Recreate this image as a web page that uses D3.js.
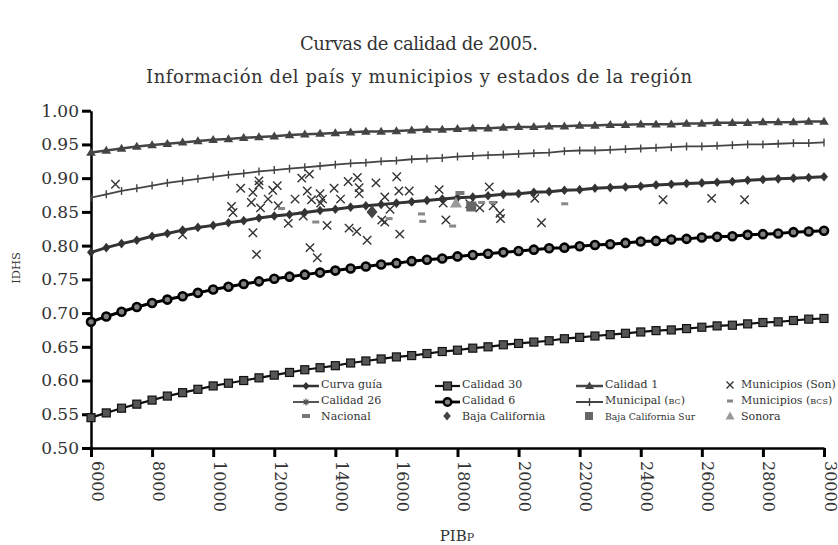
<!DOCTYPE html>
<html><head><meta charset="utf-8">
<script src="https://cdn.jsdelivr.net/npm/d3@7"></script>
<style>
body{margin:0;background:#fff}
svg text{font-family:"DejaVu Serif",serif;fill:#333}
</style>
</head><body>
<svg id="c" width="838" height="545"></svg>
<script>
// ---------- data ----------
const titleLines = ["Curvas de calidad de 2005.", "Información del país y municipios y estados de la región"];
const yLabel = "IDHS";
const xTicks = [6000, 8000, 10000, 12000, 14000, 16000, 18000, 20000, 22000, 24000, 26000, 28000, 30000];
const yTicks = [0.50, 0.55, 0.60, 0.65, 0.70, 0.75, 0.80, 0.85, 0.90, 0.95, 1.00];

const pib = [6000,6500,7000,7500,8000,8500,9000,9500,10000,10500,11000,11500,12000,12500,13000,13500,14000,14500,15000,15500,16000,16500,17000,17500,18000,18500,19000,19500,20000,20500,21000,21500,22000,22500,23000,23500,24000,24500,25000,25500,26000,26500,27000,27500,28000,28500,29000,29500,30000];

const curvaGuia = [0.790,0.797,0.803,0.808,0.814,0.818,0.823,0.827,0.830,0.834,0.837,0.841,0.844,0.846,0.849,0.852,0.854,0.857,0.859,0.861,0.863,0.865,0.867,0.869,0.871,0.872,0.874,0.876,0.877,0.879,0.880,0.882,0.883,0.885,0.886,0.887,0.888,0.890,0.891,0.892,0.893,0.894,0.895,0.897,0.898,0.899,0.900,0.901,0.902];
const calidad30 = [0.545,0.552,0.559,0.565,0.571,0.577,0.582,0.587,0.592,0.596,0.600,0.604,0.608,0.612,0.616,0.619,0.622,0.626,0.629,0.632,0.635,0.637,0.640,0.643,0.645,0.648,0.650,0.653,0.655,0.657,0.659,0.662,0.664,0.666,0.668,0.670,0.672,0.674,0.675,0.677,0.679,0.681,0.682,0.684,0.686,0.687,0.689,0.691,0.692];
const calidad6 = [0.687,0.695,0.702,0.709,0.715,0.720,0.725,0.730,0.735,0.739,0.743,0.747,0.751,0.754,0.757,0.760,0.763,0.766,0.769,0.772,0.774,0.777,0.779,0.781,0.784,0.786,0.788,0.790,0.792,0.794,0.796,0.797,0.799,0.801,0.802,0.804,0.806,0.807,0.809,0.810,0.812,0.813,0.814,0.816,0.817,0.818,0.820,0.821,0.822];
const calidad1 = [0.938,0.941,0.944,0.947,0.949,0.951,0.953,0.955,0.957,0.958,0.960,0.961,0.962,0.964,0.965,0.966,0.967,0.968,0.969,0.969,0.970,0.971,0.972,0.972,0.973,0.974,0.974,0.975,0.976,0.976,0.977,0.977,0.978,0.978,0.979,0.979,0.980,0.980,0.980,0.981,0.981,0.982,0.982,0.982,0.983,0.983,0.983,0.984,0.984];
const municipalBC = [0.871,0.876,0.881,0.885,0.889,0.893,0.896,0.899,0.902,0.905,0.907,0.910,0.912,0.914,0.916,0.918,0.920,0.922,0.923,0.925,0.926,0.928,0.929,0.930,0.932,0.933,0.934,0.935,0.936,0.937,0.938,0.940,0.941,0.941,0.942,0.943,0.944,0.945,0.946,0.947,0.947,0.948,0.949,0.950,0.950,0.951,0.952,0.952,0.953];

const sonX = [6800,10900,11500,11500,11300,11250,10600,10650,11550,11800,11950,12100,12130,11300,11420,12460,12680,12900,13150,13080,13220,13500,13580,13520,12950,13170,13410,13730,13960,14170,14420,14720,14780,14780,14450,14700,15040,15330,15620,15520,15620,15790,16010,16080,16420,16110,17400,17620,19040,18400,18730,19170,19390,19410,20530,20750,9000,17530,24730,26320,27400];
const sonY = [0.891,0.885,0.896,0.890,0.879,0.864,0.858,0.849,0.856,0.869,0.882,0.889,0.859,0.819,0.787,0.833,0.869,0.900,0.906,0.881,0.868,0.877,0.869,0.863,0.844,0.797,0.782,0.830,0.885,0.869,0.895,0.901,0.886,0.877,0.826,0.821,0.808,0.893,0.872,0.838,0.835,0.854,0.902,0.881,0.881,0.817,0.883,0.838,0.887,0.862,0.856,0.859,0.848,0.840,0.870,0.834,0.816,0.863,0.868,0.870,0.868];

const bcsMunX = [12240,13360,16820,16860,15760,17840,18790,19150,21510];
const bcsMunY = [0.855,0.835,0.847,0.836,0.840,0.829,0.864,0.864,0.862];

const nacionalX = [18080], nacionalY = [0.878];
const bajaCalX = [15200], bajaCalY = [0.850];
const bajaCalSurX = [18450], bajaCalSurY = [0.858];
const sonoraX = [17950], sonoraY = [0.863];

const legendRow1 = ["Curva guía", "Calidad 30", "Calidad 1", "Municipios (Son)"];
const legendRow2 = ["Calidad 26", "Calidad 6", "Municipal (BC)", "Municipios (BCS)"];
const legendRow3 = ["Nacional", "Baja California", "Baja California Sur", "Sonora"];

// ---------- chart ----------
const svg = d3.select("#c");
const x = d3.scaleLinear().domain([6000, 30000]).range([91, 824]);
const y = d3.scaleLinear().domain([0.5, 1]).range([448, 110.7]);

// title
svg.append("text").attr("x", 419).attr("y", 50).attr("text-anchor", "middle")
  .attr("font-size", 18).attr("textLength", 238).attr("lengthAdjust", "spacing").text(titleLines[0]);
svg.append("text").attr("x", 419).attr("y", 83).attr("text-anchor", "middle")
  .attr("font-size", 18).attr("textLength", 546).attr("lengthAdjust", "spacing").text(titleLines[1]);

// axes
const gy = svg.append("g").attr("transform", "translate(91,0)")
  .call(d3.axisLeft(y).tickValues(yTicks).tickFormat(d3.format(".2f")).tickSize(9).tickSizeOuter(0).tickPadding(3));
const gx = svg.append("g").attr("transform", "translate(0,448)")
  .call(d3.axisBottom(x).tickValues(xTicks).tickFormat(d3.format("d")).tickSize(9).tickSizeOuter(0));
[gx, gy].forEach(g => {
  g.attr("font-family", null).attr("font-size", null);
  g.select(".domain").attr("stroke", "#000").attr("stroke-width", 2.5);
  g.selectAll(".tick line").attr("stroke", "#000").attr("stroke-width", 3);
});
gy.selectAll(".tick text").attr("font-size", 17).attr("fill", "#333");
gx.selectAll(".tick text").attr("font-size", 16).attr("fill", "#333")
  .attr("transform", "rotate(90)").attr("x", 13).attr("y", 0).attr("dy", "0").attr("text-anchor", "start");

// axis titles
svg.append("text").attr("transform", "translate(20,268) rotate(-90)").attr("text-anchor", "middle")
  .attr("font-size", 11.5).text(yLabel);
const xt = svg.append("text").attr("x", 457).attr("y", 541).attr("text-anchor", "middle").attr("font-size", 15);
xt.append("tspan").text("PIB");
xt.append("tspan").attr("font-size", 11).text("P");

// marker shapes
const diamondP = (w, h) => `M0,${-h}L${w},0L0,${h}L${-w},0Z`;
const triP = (w, t, b) => `M0,${-t}L${w},${b}L${-w},${b}Z`;
const timesP = s => `M${-s},${-s}L${s},${s}M${-s},${s}L${s},${-s}`;
const asterP = s => `M${-s},0L${s},0M0,${-s}L0,${s}M${-s*0.7},${-s*0.7}L${s*0.7},${s*0.7}M${-s*0.7},${s*0.7}L${s*0.7},${-s*0.7}`;

const line = d3.line().x((d, i) => x(pib[i])).y(d => y(d));
const idx = pib.map((d, i) => i);

// Calidad 30
svg.append("path").attr("d", line(calidad30)).attr("fill", "none").attr("stroke", "#111").attr("stroke-width", 2.2);
svg.append("g").selectAll("rect").data(idx).join("rect")
  .attr("x", i => x(pib[i]) - 4).attr("y", i => y(calidad30[i]) - 4).attr("width", 8).attr("height", 8)
  .attr("fill", "#555").attr("stroke", "#111").attr("stroke-width", 1.2);

// Calidad 6
svg.append("path").attr("d", line(calidad6)).attr("fill", "none").attr("stroke", "#000").attr("stroke-width", 3);
svg.append("g").selectAll("circle").data(idx).join("circle")
  .attr("cx", i => x(pib[i])).attr("cy", i => y(calidad6[i])).attr("r", 4)
  .attr("fill", "#808080").attr("stroke", "#000").attr("stroke-width", 2.6);

// Curva guía
svg.append("path").attr("d", line(curvaGuia)).attr("fill", "none").attr("stroke", "#333").attr("stroke-width", 3);
svg.append("g").selectAll("path").data(idx).join("path")
  .attr("transform", i => `translate(${x(pib[i])},${y(curvaGuia[i])})`).attr("d", diamondP(4, 4.8)).attr("fill", "#333");

// Municipal (BC)
svg.append("path").attr("d", line(municipalBC)).attr("fill", "none").attr("stroke", "#444").attr("stroke-width", 1.8);
svg.append("g").selectAll("path").data(idx).join("path")
  .attr("transform", i => `translate(${x(pib[i])},${y(municipalBC[i])})`).attr("d", "M0,-4V4")
  .attr("stroke", "#444").attr("stroke-width", 1.4);

// Calidad 1
svg.append("path").attr("d", line(calidad1)).attr("fill", "none").attr("stroke", "#444").attr("stroke-width", 2.5);
svg.append("g").selectAll("path").data(idx).join("path")
  .attr("transform", i => `translate(${x(pib[i])},${y(calidad1[i])})`).attr("d", triP(4.8, 4.8, 3.2)).attr("fill", "#444");

// scatter: municipios Son
svg.append("g").selectAll("path").data(sonX).join("path")
  .attr("transform", (d, i) => `translate(${x(d)},${y(sonY[i])})`).attr("d", timesP(4.2))
  .attr("stroke", "#333").attr("stroke-width", 1.4).attr("fill", "none");
// municipios BCS
svg.append("g").selectAll("rect").data(bcsMunX).join("rect")
  .attr("x", d => x(d) - 3.5).attr("y", (d, i) => y(bcsMunY[i]) - 1.5).attr("width", 7).attr("height", 3).attr("fill", "#888");
// Nacional
svg.append("g").selectAll("rect").data(nacionalX).join("rect")
  .attr("x", d => x(d) - 4.5).attr("y", (d, i) => y(nacionalY[i]) - 2).attr("width", 9).attr("height", 4).attr("fill", "#777");
// Baja California
svg.append("g").selectAll("path").data(bajaCalX).join("path")
  .attr("transform", (d, i) => `translate(${x(d)},${y(bajaCalY[i])})`).attr("d", diamondP(5.5, 6.5)).attr("fill", "#444");
// Baja California Sur
svg.append("g").selectAll("rect").data(bajaCalSurX).join("rect")
  .attr("x", d => x(d) - 5).attr("y", (d, i) => y(bajaCalSurY[i]) - 5).attr("width", 10).attr("height", 10).attr("fill", "#666");
// Sonora
svg.append("g").selectAll("path").data(sonoraX).join("path")
  .attr("transform", (d, i) => `translate(${x(d)},${y(sonoraY[i])})`).attr("d", triP(6, 6, 4.5)).attr("fill", "#999");

// ---------- legend ----------
const lg = svg.append("g");
const rowsBase = [388, 404, 420];
const lineX0 = [293, 435, 576], lineX1 = [319, 460, 603];
const textX = [321, 462, 605, 741];
function addLabel(tx, ty, label, size) {
  const t = lg.append("text").attr("x", tx).attr("y", ty).attr("font-size", size || 11);
  const m = label.match(/^(.*\()(BCS?|BC)(\))$/);
  if (m) {
    t.append("tspan").text(m[1]);
    t.append("tspan").attr("font-size", 8).text(m[2]);
    t.append("tspan").text(m[3]);
  } else t.text(label);
}
function legLine(col, row, color, w) {
  const ly = rowsBase[row] - 2;
  lg.append("line").attr("x1", lineX0[col]).attr("x2", lineX1[col]).attr("y1", ly).attr("y2", ly)
    .attr("stroke", color).attr("stroke-width", w);
  return [(lineX0[col] + lineX1[col]) / 2, ly];
}
let p;
// row 1
p = legLine(0, 0, "#333", 2.5);
lg.append("path").attr("transform", `translate(${p})`).attr("d", diamondP(3.5, 4)).attr("fill", "#333");
p = legLine(1, 0, "#111", 2.2);
lg.append("rect").attr("x", p[0] - 4).attr("y", p[1] - 4).attr("width", 8).attr("height", 8).attr("fill", "#555").attr("stroke", "#111").attr("stroke-width", 1.2);
p = legLine(2, 0, "#444", 2.5);
lg.append("path").attr("transform", `translate(${p})`).attr("d", triP(4.5, 4.5, 3)).attr("fill", "#444");
lg.append("path").attr("transform", `translate(730,${rowsBase[0] - 3})`).attr("d", timesP(3.5)).attr("stroke", "#333").attr("stroke-width", 1.4);
legendRow1.forEach((l, i) => addLabel(textX[i], rowsBase[0], l));
// row 2
p = legLine(0, 1, "#555", 2);
lg.append("path").attr("transform", `translate(${p})`).attr("d", asterP(3.5)).attr("stroke", "#555").attr("stroke-width", 1.2);
p = legLine(1, 1, "#000", 2.8);
lg.append("circle").attr("cx", p[0]).attr("cy", p[1]).attr("r", 3.8).attr("fill", "#808080").attr("stroke", "#000").attr("stroke-width", 2.4);
p = legLine(2, 1, "#444", 2);
lg.append("path").attr("transform", `translate(${p})`).attr("d", "M0,-4V4").attr("stroke", "#444").attr("stroke-width", 1.4);
lg.append("rect").attr("x", 727).attr("y", rowsBase[1] - 4.5).attr("width", 6).attr("height", 3).attr("fill", "#888");
legendRow2.forEach((l, i) => addLabel(textX[i], rowsBase[1], l));
// row 3
lg.append("rect").attr("x", 302).attr("y", rowsBase[2] - 6).attr("width", 8).attr("height", 4).attr("fill", "#777");
lg.append("path").attr("transform", `translate(447,${rowsBase[2] - 4})`).attr("d", diamondP(3.8, 4.5)).attr("fill", "#444");
lg.append("rect").attr("x", 585).attr("y", rowsBase[2] - 8).attr("width", 8).attr("height", 8).attr("fill", "#666");
lg.append("path").attr("transform", `translate(730,${rowsBase[2] - 4})`).attr("d", triP(4.5, 4.5, 3.5)).attr("fill", "#999");
legendRow3.forEach((l, i) => addLabel(textX[i], rowsBase[2], l, i === 2 ? 9.3 : 11));
</script>
</body></html>
